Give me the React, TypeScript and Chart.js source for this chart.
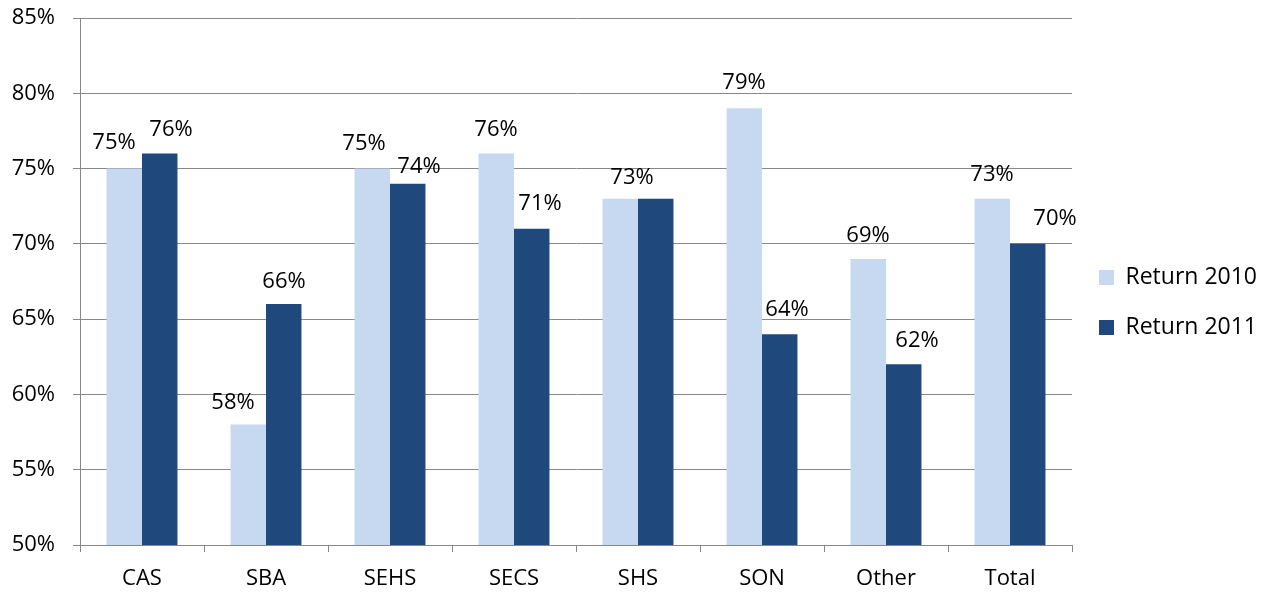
import React, { useEffect, useRef } from "react";
import { Chart, registerables } from "chart.js";

Chart.register(...registerables);

const categories = ["CAS", "SBA", "SEHS", "SECS", "SHS", "SON", "Other", "Total"];
const return2010 = [75, 58, 75, 76, 73, 79, 69, 73];
const return2011 = [76, 66, 74, 71, 73, 64, 62, 70];
const seriesNames = ["Return 2010", "Return 2011"];
const yTicks = [50, 55, 60, 65, 70, 75, 80, 85];

// manual label nudges (as in the source chart)
const labelDx2010 = [-10, -15, -8, 0, 12, 0, 0, 0];
const labelDy2010 = [-2, 2, -1, 0, 3, -1, 1, 0];
const labelDx2011 = [11, 0, 11, 8, -23, 7, 13, 27];
const labelDy2011 = [0, 2, 7, -1, 3, 0, 1, -1];

const FONT = "'Open Sans', 'Noto Sans', sans-serif";
const GRID = "#888888";

const valueLabels = {
  id: "valueLabels",
  afterDatasetsDraw(chart: any) {
    const ctx = chart.ctx;
    ctx.save();
    ctx.font = `22px ${FONT}`;
    ctx.fillStyle = "#000";
    ctx.textAlign = "center";
    ctx.textBaseline = "alphabetic";
    const offs = [
      [labelDx2010, labelDy2010],
      [labelDx2011, labelDy2011],
    ];
    const drawn: { text: string; x: number; y: number }[] = [];
    chart.data.datasets.forEach((ds: any, di: number) => {
      const meta = chart.getDatasetMeta(di);
      meta.data.forEach((el: any, i: number) => {
        const dx = offs[di][0][i] || 0;
        const dy = offs[di][1][i] || 0;
        const x = Math.round(el.x + dx);
        const y = Math.round(el.y - 26 + dy + 8);
        const text = `${ds.data[i]}%`;
        // identical labels placed on the same spot overlap exactly: draw once
        if (drawn.some((d) => d.text === text && Math.abs(d.x - x) <= 3 && Math.abs(d.y - y) <= 3)) return;
        drawn.push({ text, x, y });
        ctx.fillText(text, x, y);
      });
    });
    ctx.restore();
  },
};

export default function App() {
  const ref = useRef<HTMLCanvasElement | null>(null);
  useEffect(() => {
    if (!ref.current) return;
    const chart = new Chart(ref.current, {
      type: "bar",
      data: {
        labels: categories,
        datasets: [
          {
            label: seriesNames[0],
            data: return2010,
            backgroundColor: "#C6D9F1",
            barPercentage: 1,
            categoryPercentage: 0.572,
          },
          {
            label: seriesNames[1],
            data: return2011,
            backgroundColor: "#1F497D",
            barPercentage: 1,
            categoryPercentage: 0.572,
          },
        ],
      },
      options: {
        animation: false,
        responsive: true,
        maintainAspectRatio: false,
        layout: { padding: { top: 18, right: 3, bottom: 8, left: 0 } },
        plugins: {
          tooltip: { enabled: false },
          legend: {
            position: "right",
            labels: {
              boxWidth: 15,
              boxHeight: 15,
              padding: 27,
              color: "#000",
              font: { family: FONT, size: 23 },
            },
          },
        },
        scales: {
          x: {
            grid: {
              offset: true,
              drawOnChartArea: false,
              drawTicks: true,
              tickLength: 7,
              color: GRID,
            },
            border: { color: GRID },
            ticks: {
              color: "#000",
              padding: 14,
              font: { family: FONT, size: 22 },
            },
            afterFit: (s: any) => {
              s.height = 42;
            },
          },
          y: {
            min: 50,
            max: 85,
            afterBuildTicks: (s: any) => {
              s.ticks = yTicks.map((v) => ({ value: v }));
            },
            grid: {
              color: GRID,
              drawTicks: true,
              tickLength: 7,
            },
            border: { color: GRID },
            ticks: {
              color: "#000",
              padding: 18,
              font: { family: FONT, size: 22 },
              callback: (v: any) => `${v}%`,
            },
            afterFit: (s: any) => {
              s.width = 80;
              s.paddingTop = 0;
              s.paddingBottom = 0;
            },
          },
        },
      },
      plugins: [valueLabels],
    });
    return () => chart.destroy();
  }, []);
  return (
    <div style={{ position: "absolute", left: 0, top: 0, width: 1270, height: 595 }}>
      <canvas ref={ref} />
    </div>
  );
}
